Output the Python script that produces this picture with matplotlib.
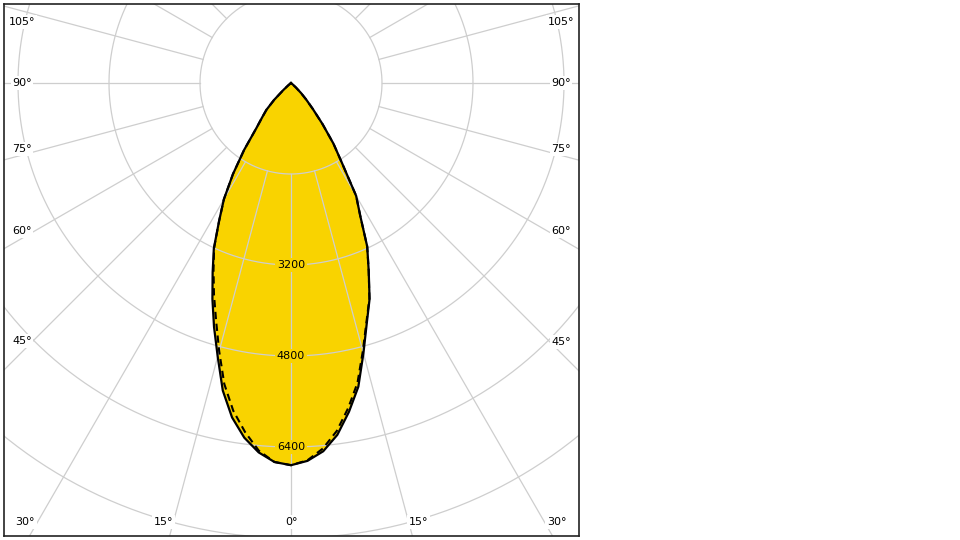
import numpy as np
import matplotlib.pyplot as plt

plt.rcParams['font.family'] = 'DejaVu Sans'

# luminous intensity (cd) against gamma angle, one list per half plane
gamma = [0, 2.5, 5, 7.5, 10, 12.5, 15, 17.5, 20, 22.5, 25, 27.5, 30,
         32.5, 35, 37.5, 40, 42.5, 45, 47.5, 50, 55, 60, 75, 90]
c0 = [6720, 6650, 6500, 6240, 5870, 5470, 4920, 4430, 4040, 3570, 3170, 2640, 2290,
      1670, 1300, 910, 600, 400, 250, 120, 40, 0, 0, 0, 0]
c180 = [6720, 6670, 6520, 6290, 5970, 5540, 4980, 4500, 4040, 3600, 3210, 2740, 2360,
        1900, 1440, 1000, 790, 640, 420, 180, 60, 0, 0, 0, 0]
c90 = [6720, 6640, 6450, 6170, 5800, 5400, 4880, 4410, 4030, 3570, 3170, 2640, 2290,
       1670, 1300, 910, 600, 400, 250, 120, 40, 0, 0, 0, 0]
c270 = [6720, 6670, 6490, 6190, 5850, 5420, 4880, 4380, 3960, 3560, 3200, 2740, 2360,
        1900, 1440, 1000, 790, 640, 420, 180, 60, 0, 0, 0, 0]

rings = [1600, 3200, 4800, 6400, 8000, 9600]
ring_labels = [3200, 4800, 6400]
side_labels = [105, 90, 75, 60, 45]
bottom_labels = [30, 15, 0]

fill_color = '#f9d300'
grid_color = '#cecece'

# pixel geometry of the plot box (centre of the diagram is the origin)
px = 91 / 1600.0
x_left, x_right = -287 / px, 288 / px
y_bottom, y_top = -453 / px, 79 / px


def to_xy(angles, values, side):
    a = np.radians(angles)
    v = np.asarray(values, dtype=float)
    return side * v * np.sin(a), -v * np.cos(a)


fig = plt.figure(figsize=(9.6, 5.4), dpi=100)
ax = fig.add_axes([4 / 960, 4 / 540, 575 / 960, 532 / 540])
ax.set_xlim(x_left, x_right)
ax.set_ylim(y_bottom, y_top)
ax.set_xticks([])
ax.set_yticks([])
for sp in ax.spines.values():
    sp.set_color('#222222')
    sp.set_linewidth(1.2)

# filled outline (C0-C180 plane)
lx, ly = to_xy(gamma, c180, -1)
rx, ry = to_xy(gamma, c0, 1)
solid_x = np.concatenate([lx[::-1], rx])
solid_y = np.concatenate([ly[::-1], ry])
ax.fill(solid_x, solid_y, color=fill_color, lw=0, zorder=1)

# C90-C270 plane
lx2, ly2 = to_xy(gamma, c270, -1)
rx2, ry2 = to_xy(gamma, c90, 1)
dash_x = np.concatenate([lx2[::-1], rx2])
dash_y = np.concatenate([ly2[::-1], ry2])

# polar grid
t = np.linspace(0, 2 * np.pi, 721)
for r in rings:
    ax.plot(r * np.sin(t), r * np.cos(t), color=grid_color, lw=0.9, zorder=2)
for a in range(0, 360, 15):
    sx, sy = to_xy([a, a], [rings[0], 20000], 1)
    ax.plot(sx, sy, color=grid_color, lw=0.9, zorder=2)

ax.plot(dash_x, dash_y, color='black', lw=1.5, ls=(0, (3.5, 2.2)), zorder=4)
ax.plot(solid_x, solid_y, color='black', lw=1.6, zorder=5)

for v in ring_labels:
    ax.text(0, -v, str(v), ha='center', va='center', fontsize=8, zorder=3,
            bbox=dict(fc=fill_color, ec='none', pad=1.2))

# angle labels sit just inside the frame, a little off their spoke
inset_side, inset_bottom, inset_top = 18 / px, 14 / px, 12 / px


def edge_point(angle, side):
    shift = 0 if angle in (0, 90) else (1.2 if angle < 90 else -1.2)
    a = np.radians(angle + shift)
    dx, dy = side * np.sin(a), -np.cos(a)
    lim_x = (x_right if side > 0 else -x_left) - inset_side
    cands = []
    if abs(dx) > 1e-9:
        cands.append(lim_x / abs(dx))
    if dy < -1e-9:
        cands.append((-y_bottom - inset_bottom) / -dy)
    elif dy > 1e-9:
        cands.append((y_top - inset_top) / dy)
    k = min(cands)
    return k * dx, min(k * dy, y_top - 18 / px)


for ang in side_labels + bottom_labels:
    for side in ([-1, 1] if ang else [1]):
        x, y = edge_point(ang, side)
        ax.text(x, y, f'{ang}°', ha='center', va='center', fontsize=8, zorder=6,
                bbox=dict(fc='white', ec='none', pad=1.2))

fig.savefig('out.png', dpi=100)
